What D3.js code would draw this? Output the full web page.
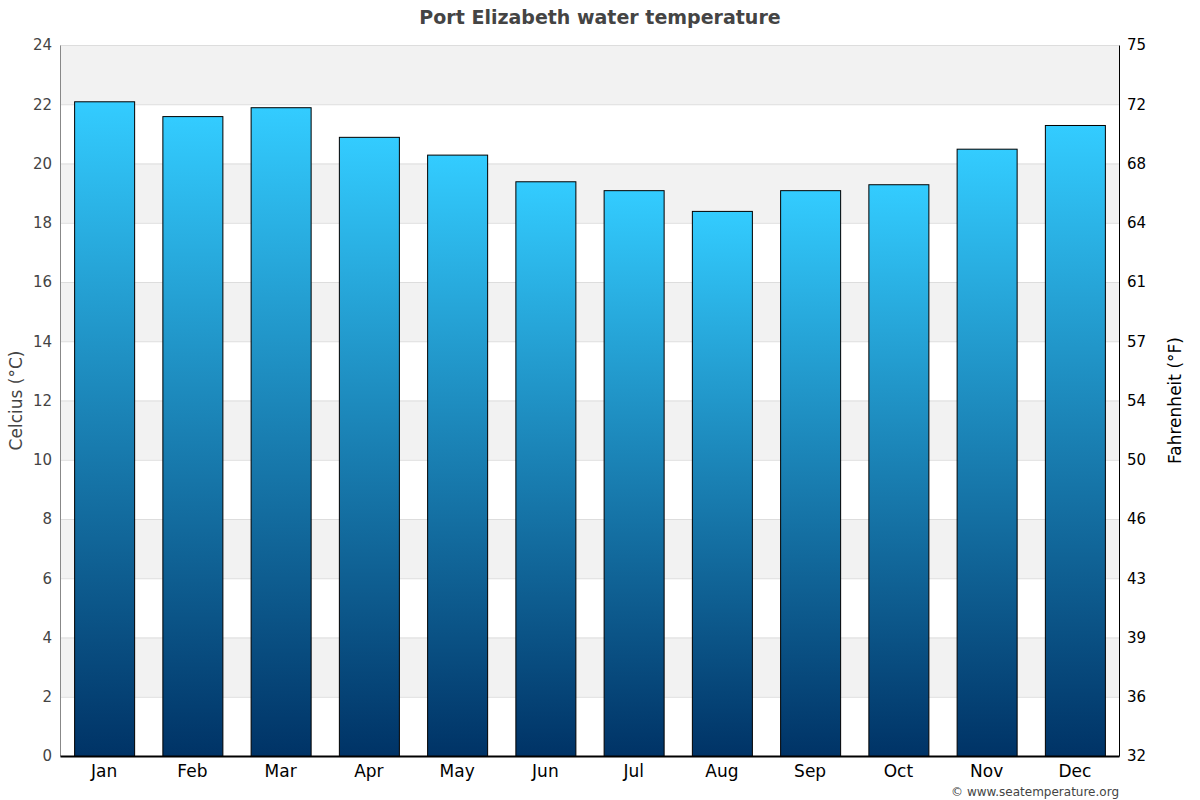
<!DOCTYPE html>
<meta charset="utf-8">
<script src="https://d3js.org/d3.v7.min.js"></script>
<style>
body { margin: 0; background: #fff; }
text { font-family: "DejaVu Sans", Verdana, sans-serif; }
</style>
<div id="chart"></div>
<script>
// chart data
var months = ["Jan","Feb","Mar","Apr","May","Jun","Jul","Aug","Sep","Oct","Nov","Dec"];
var waterTemp = [22.1, 21.6, 21.9, 20.9, 20.3, 19.4, 19.1, 18.4, 19.1, 19.3, 20.5, 21.3];
var celsiusTicks = [0, 2, 4, 6, 8, 10, 12, 14, 16, 18, 20, 22, 24];

var W = 1200, H = 800;
var margin = {top: 45, right: 81, bottom: 44, left: 60},
    width = W - margin.left - margin.right,
    height = H - margin.top - margin.bottom;

var svg = d3.select("#chart").append("svg")
    .attr("width", W).attr("height", H);

var defs = svg.append("defs");
var grad = defs.append("linearGradient")
    .attr("id", "barGrad")
    .attr("x1", 0).attr("y1", 0).attr("x2", 0).attr("y2", 1);
grad.append("stop").attr("offset", "0%").attr("stop-color", "#33ccff");
grad.append("stop").attr("offset", "100%").attr("stop-color", "#003366");

var g = svg.append("g")
    .attr("transform", "translate(" + margin.left + "," + margin.top + ")");

var x = d3.scaleBand().domain(months).range([0, width]).paddingInner(0.32).paddingOuter(0.16);
var y = d3.scaleLinear().domain([0, 24]).range([height, 0]);

// alternating bands
var bands = celsiusTicks.slice(0, -1).filter(function(d) { return d % 4 === 2; });
g.selectAll(".band")
  .data(bands)
  .enter().append("rect")
    .attr("x", 0)
    .attr("width", width)
    .attr("y", function(d) { return y(d + 2); })
    .attr("height", function(d) { return y(d) - y(d + 2); })
    .attr("fill", "#f2f2f2");

// grid lines
g.selectAll(".grid")
  .data(celsiusTicks.filter(function(d) { return d > 0; }))
  .enter().append("line")
    .attr("x1", 0).attr("x2", width)
    .attr("y1", function(d) { return y(d) + 0.5; })
    .attr("y2", function(d) { return y(d) + 0.5; })
    .attr("stroke", "#dddddd");

// bars
g.selectAll(".bar")
  .data(waterTemp)
  .enter().append("rect")
    .attr("x", function(d, i) { return x(months[i]) + 0.5; })
    .attr("y", function(d) { return y(d) + 0.5; })
    .attr("width", x.bandwidth())
    .attr("height", function(d) { return height - y(d); })
    .attr("fill", "url(#barGrad)")
    .attr("stroke", "#000")
    .attr("stroke-width", 1);

// left axis
var left = g.append("g")
    .call(d3.axisLeft(y).tickValues(celsiusTicks).tickSize(0).tickPadding(8));
left.select(".domain").attr("stroke", "#888");
left.selectAll("text").attr("fill", "#444").style("font-size", "15px");

// right axis (fahrenheit labels at celsius positions)
var right = g.append("g")
    .attr("transform", "translate(" + width + ",0)")
    .call(d3.axisRight(y).tickValues(celsiusTicks).tickSize(0).tickPadding(8)
      .tickFormat(function(d) { return Math.round(d * 9 / 5 + 32); }));
right.select(".domain").attr("stroke", "#000");
right.selectAll("text").attr("fill", "#000").style("font-size", "15px");

// bottom axis
var bottom = g.append("g")
    .attr("transform", "translate(0," + height + ")")
    .call(d3.axisBottom(x).tickSize(0).tickPadding(9));
bottom.select(".domain").attr("stroke", "#000").attr("stroke-width", 2);
bottom.selectAll("text").attr("fill", "#000").style("font-size", "17px");

// title
svg.append("text")
    .attr("x", W / 2).attr("y", 24)
    .attr("text-anchor", "middle")
    .style("font-size", "19px").style("font-weight", "bold")
    .attr("fill", "#444")
    .text("Port Elizabeth water temperature");

// axis labels
svg.append("text")
    .attr("transform", "translate(22," + (margin.top + height / 2) + ") rotate(-90)")
    .attr("text-anchor", "middle")
    .style("font-size", "17px")
    .attr("fill", "#444")
    .text("Celcius (°C)");

svg.append("text")
    .attr("transform", "translate(1181," + (margin.top + height / 2) + ") rotate(-90)")
    .attr("text-anchor", "middle")
    .style("font-size", "17px")
    .attr("fill", "#000")
    .text("Fahrenheit (°F)");

svg.append("text")
    .attr("x", 1119).attr("y", 796)
    .attr("text-anchor", "end")
    .style("font-size", "12px")
    .attr("fill", "#444")
    .text("© www.seatemperature.org");
</script>
